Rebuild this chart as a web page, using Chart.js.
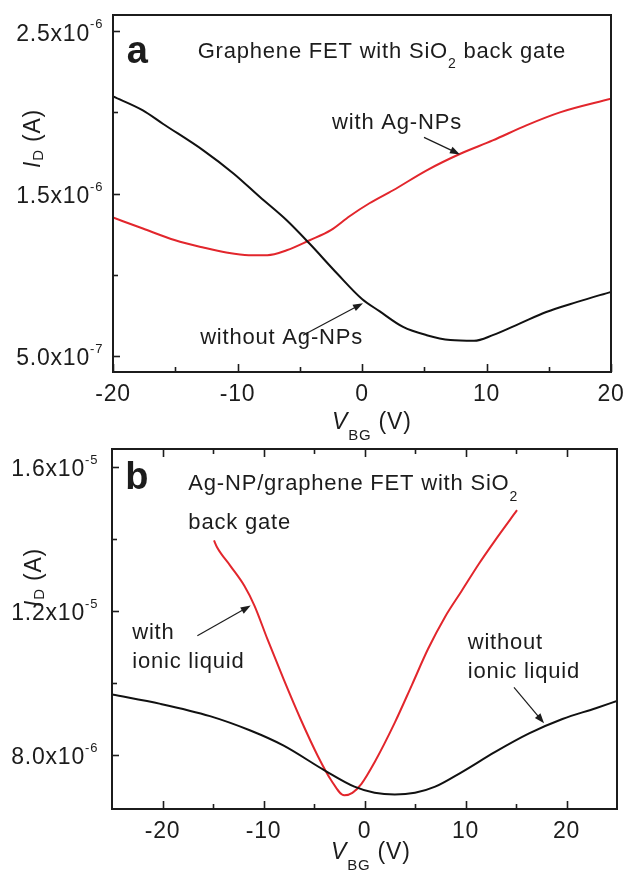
<!DOCTYPE html>
<html>
<head>
<meta charset="utf-8">
<script src="https://cdn.jsdelivr.net/npm/chart.js@4.4.0/dist/chart.umd.min.js"></script>
<style>
html,body{margin:0;padding:0;background:#fff;width:625px;height:873px;overflow:hidden;}
#wa{position:absolute;left:0;top:0;width:625px;height:440px;}
#wb{position:absolute;left:0;top:440px;width:625px;height:433px;}
canvas{display:block;}
</style>
</head>
<body>
<div id="wa"><canvas id="ca" width="625" height="440"></canvas></div>
<div id="wb"><canvas id="cb" width="625" height="433"></canvas></div>
<script>
// ---------------- DATA (currents in µA, gate voltage in V) ----------------
const UNIT = 1e-6;

// Panel a: graphene FET with SiO2 back gate
const vgA_without = [-20, -17.6, -16, -12.75, -10.3, -8.2, -6.05, -4.2, -2, 0, 1.4, 3.3, 5.2, 7.1, 9, 10.5, 12.7, 14.8, 17.3, 20];
const idA_without = [2.098, 2.012, 1.93, 1.766, 1.622, 1.478, 1.335, 1.19, 1.007, 0.85, 0.775, 0.678, 0.627, 0.597, 0.592, 0.627, 0.70, 0.77, 0.832, 0.894];
const vgA_with = [-20, -17.6, -15, -12.75, -10.9, -9.1, -7.6, -6.05, -4.2, -2.5, -1.0, 0.6, 2.5, 5.2, 7.9, 10.5, 13.2, 15.9, 20];
const idA_with = [1.352, 1.284, 1.212, 1.167, 1.136, 1.12, 1.12, 1.15, 1.212, 1.274, 1.36, 1.44, 1.52, 1.643, 1.745, 1.827, 1.92, 2.0, 2.084];

// Panel b: Ag-NP/graphene FET, with / without ionic liquid
const vgB_without = [-25, -20.2, -15.3, -11.3, -8, -4, -1, 1, 3, 5, 7, 9.6, 12.9, 16.3, 19.6, 22.9, 25];
const idB_without = [9.68, 9.42, 9.08, 8.68, 8.26, 7.58, 7.12, 6.95, 6.90, 6.95, 7.12, 7.52, 8.08, 8.6, 9.0, 9.3, 9.5];
const vgB_with = [-14.9, -14.6, -13.3, -11.9, -10.9, -9.6, -8.0, -6.3, -4.6, -3.3, -2.0, -1.2, -0.3, 1.0, 3.0, 4.7, 6.3, 8.0, 9.6, 11.3, 12.9, 15.1];
const idB_with = [13.96, 13.77, 13.26, 12.70, 12.15, 11.21, 10.10, 8.98, 7.96, 7.30, 6.88, 6.95, 7.2, 7.8, 8.9, 9.95, 10.95, 11.85, 12.55, 13.3, 13.95, 14.8];

// Axis ticks
const xTicksA = [-20, -15, -10, -5, 0, 5, 10, 15, 20];
const xLabelsA = ['-20', '', '-10', '', '0', '', '10', '', '20'];
const yTicksA = [0.5e-6, 1.0e-6, 1.5e-6, 2.0e-6, 2.5e-6];
const yLabelsA = ['5.0x10', '', '1.5x10', '', '2.5x10'];
const yExpA = ['-7', '', '-6', '', '-6'];

const xTicksB = [-20, -15, -10, -5, 0, 5, 10, 15, 20];
const xLabelsB = ['-20', '', '-10', '', '0', '', '10', '', '20'];
const yTicksB = [8e-6, 10e-6, 12e-6, 14e-6, 16e-6];
const yLabelsB = ['8.0x10', '', '1.2x10', '', '1.6x10'];
const yExpB = ['-6', '', '-5', '', '-5'];

// ---------------- STYLE ----------------
const FONT = "'Liberation Sans', Arial, Helvetica, sans-serif";
const RED = '#e2262c';
const BLACK = '#111111';
const INK = '#1c1c1c';
const SPACING = '0.8px';

function drawRuns(ctx, x, y, runs, baseSize) {
  let cx = x;
  for (const r of runs) {
    const size = r.size || baseSize;
    ctx.font = (r.italic ? 'italic ' : '') + (r.bold ? 'bold ' : '') + size + 'px ' + FONT;
    ctx.fillText(r.t, cx, y + (r.dy || 0));
    cx += ctx.measureText(r.t).width;
  }
  return cx;
}

function arrow(ctx, x1, y1, x2, y2) {
  const a = Math.atan2(y2 - y1, x2 - x1), L = 10, W = 3.6;
  ctx.beginPath();
  ctx.moveTo(x1, y1);
  ctx.lineTo(x2 - L * 0.7 * Math.cos(a), y2 - L * 0.7 * Math.sin(a));
  ctx.lineWidth = 1.2;
  ctx.stroke();
  ctx.beginPath();
  ctx.moveTo(x2, y2);
  ctx.lineTo(x2 - L * Math.cos(a) + W * Math.sin(a), y2 - L * Math.sin(a) - W * Math.cos(a));
  ctx.lineTo(x2 - L * Math.cos(a) - W * Math.sin(a), y2 - L * Math.sin(a) + W * Math.cos(a));
  ctx.closePath();
  ctx.fill();
}

function makeDeco(P) {
  return {
    id: 'deco',
    beforeDraw(chart) {
      try { chart.ctx.letterSpacing = SPACING; } catch (e) {}
    },
    afterDraw(chart) {
      const ctx = chart.ctx, ca = chart.chartArea;
      const xs = chart.scales.x, ys = chart.scales.y;
      ctx.save();
      try { ctx.letterSpacing = SPACING; } catch (e) {}
      ctx.strokeStyle = INK; ctx.fillStyle = INK;
      // frame
      ctx.lineWidth = 2;
      ctx.strokeRect(ca.left, ca.top, ca.right - ca.left, ca.bottom - ca.top);
      // x tick marks (inward)
      ctx.lineWidth = 1.6;
      P.xTicks.forEach((v, i) => {
        const px = Math.round(xs.getPixelForValue(v)) + 0.5;
        const len = P.xLabels[i] ? 8 : 5;
        ctx.beginPath(); ctx.moveTo(px, ca.bottom); ctx.lineTo(px, ca.bottom - len); ctx.stroke();
        if (P.topTicks) { ctx.beginPath(); ctx.moveTo(px, ca.top); ctx.lineTo(px, ca.top + len); ctx.stroke(); }
      });
      // y tick marks (inward) + exponents
      P.yTicks.forEach((v, i) => {
        const py = Math.round(ys.getPixelForValue(v)) + 0.5;
        const len = P.yLabels[i] ? 7 : 5;
        ctx.beginPath(); ctx.moveTo(ca.left, py); ctx.lineTo(ca.left + len, py); ctx.stroke();
        if (P.yExp[i]) {
          ctx.textAlign = 'left'; ctx.textBaseline = 'alphabetic';
          ctx.font = '13px ' + FONT;
          ctx.fillText(P.yExp[i], ca.left - P.yPad, py + 3 - 7);
        }
      });
      ctx.textAlign = 'left'; ctx.textBaseline = 'alphabetic';
      // x axis title
      drawRuns(ctx, ca.left + 219, ca.bottom + P.xTitleDy, [
        { t: 'V', italic: true }, { t: 'BG', size: 15, dy: 11 }, { t: ' (V)' }
      ], 23);
      // y axis title (rotated)
      ctx.save();
      ctx.translate(P.yTitleX, P.yTitleY);
      ctx.rotate(-Math.PI / 2);
      drawRuns(ctx, 0, 0, [{ t: 'I', italic: true }, { t: 'D', size: 15, dy: 3 }, { t: ' (A)' }], 23);
      ctx.restore();
      // annotations
      P.notes.forEach(n => {
        drawRuns(ctx, xs.getPixelForValue(n.x), ys.getPixelForValue(n.y * UNIT), n.runs, 22);
      });
      P.arrows.forEach(a => {
        arrow(ctx, xs.getPixelForValue(a[0]), ys.getPixelForValue(a[1] * UNIT),
                   xs.getPixelForValue(a[2]), ys.getPixelForValue(a[3] * UNIT));
      });
      ctx.restore();
      try { ctx.letterSpacing = '0px'; } catch (e) {}
    }
  };
}

function build(id, P) {
  return new Chart(document.getElementById(id), {
    type: 'line',
    data: {
      datasets: P.series.map(s => ({
        data: s.xs.map((x, i) => ({ x: x, y: s.ys[i] * UNIT })),
        borderColor: s.color, borderWidth: 2, pointRadius: 0,
        cubicInterpolationMode: 'monotone', fill: false
      }))
    },
    options: {
      responsive: false, animation: false, devicePixelRatio: 1,
      layout: { padding: P.pad },
      plugins: { legend: { display: false }, tooltip: { enabled: false } },
      scales: {
        x: {
          type: 'linear', min: P.xMin, max: P.xMax,
          grid: { display: false, drawTicks: false }, border: { display: false },
          afterBuildTicks: s => { s.ticks = P.xTicks.map(v => ({ value: v })); },
          afterFit: s => { s.height = P.xAxisH; s.paddingLeft = 0; s.paddingRight = 0; },
          ticks: { autoSkip: false, maxRotation: 0, minRotation: 0, padding: 9, color: INK,
                   font: { family: FONT, size: 23 }, callback: (v, i) => P.xLabels[i] }
        },
        y: {
          type: 'linear', min: P.yMin, max: P.yMax,
          grid: { display: false, drawTicks: false }, border: { display: false },
          afterBuildTicks: s => { s.ticks = P.yTicks.map(v => ({ value: v })); },
          afterFit: s => { s.width = P.yAxisW; s.paddingTop = 0; s.paddingBottom = 0; },
          ticks: { autoSkip: false, padding: P.yPad, labelOffset: 3, color: INK,
                   font: { family: FONT, size: 23 }, callback: (v, i) => P.yLabels[i] }
        }
      }
    },
    plugins: [makeDeco(P)]
  });
}

build('ca', {
  series: [
    { xs: vgA_without, ys: idA_without, color: BLACK },
    { xs: vgA_with, ys: idA_with, color: RED }
  ],
  pad: { top: 15, right: 14, left: 0, bottom: 0 },
  xMin: -20, xMax: 20, yMin: 0.4e-6, yMax: 2.6e-6,
  xTicks: xTicksA, xLabels: xLabelsA, yTicks: yTicksA, yLabels: yLabelsA, yExp: yExpA,
  xAxisH: 68, yAxisW: 113, yPad: 23, topTicks: false,
  xTitleDy: 57, yTitleX: 40, yTitleY: 168,
  notes: [
    { x: -18.9, y: 2.307, runs: [{ t: 'a', bold: true, size: 38 }] },
    { x: -13.2, y: 2.338, runs: [{ t: 'Graphene FET with SiO' }, { t: '2', size: 14, dy: 10 }, { t: ' back gate' }] },
    { x: -2.4, y: 1.895, runs: [{ t: 'with Ag-NPs' }] },
    { x: -13.0, y: 0.572, runs: [{ t: 'without Ag-NPs' }] }
  ],
  arrows: [[4.98, 1.846, 7.87, 1.741], [-4.74, 0.627, 0.08, 0.824]]
});

build('cb', {
  series: [
    { xs: vgB_without, ys: idB_without, color: BLACK },
    { xs: vgB_with, ys: idB_with, color: RED }
  ],
  pad: { top: 9, right: 8, left: 0, bottom: 0 },
  xMin: -25, xMax: 25, yMin: 6.5e-6, yMax: 16.5e-6,
  xTicks: xTicksB, xLabels: xLabelsB, yTicks: yTicksB, yLabels: yLabelsB, yExp: yExpB,
  xAxisH: 64, yAxisW: 112, yPad: 27, topTicks: true,
  xTitleDy: 50, yTitleX: 41, yTitleY: 167,
  notes: [
    { x: -23.7, y: 15.39, runs: [{ t: 'b', bold: true, size: 38 }] },
    { x: -17.44, y: 15.36, runs: [{ t: 'Ag-NP/graphene FET with SiO' }, { t: '2', size: 14, dy: 11 }] },
    { x: -17.44, y: 14.27, runs: [{ t: 'back gate' }] },
    { x: -23.0, y: 11.22, runs: [{ t: 'with' }] },
    { x: -23.0, y: 10.41, runs: [{ t: 'ionic liquid' }] },
    { x: 10.22, y: 10.94, runs: [{ t: 'without' }] },
    { x: 10.22, y: 10.13, runs: [{ t: 'ionic liquid' }] }
  ],
  arrows: [[-16.55, 11.31, -11.27, 12.15], [14.8, 9.88, 17.78, 8.88]]
});
</script>
</body>
</html>
